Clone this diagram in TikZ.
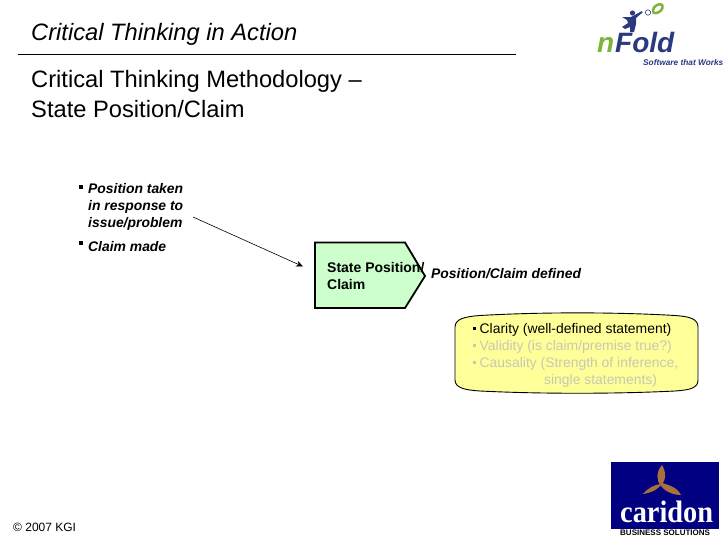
\documentclass[tikz,border=0pt]{standalone}
\usepackage{fontspec}
\usetikzlibrary{arrows.meta}
\setmainfont{Liberation Sans}
\newfontfamily\seriflogo{Liberation Serif}
\newcommand{\fsz}[1]{\fontsize{#1}{#1}\selectfont}
\tikzset{
  x=1pt,y=-1pt,
  txt/.style={inner sep=0pt,anchor=base west,text=black},
  tgrey/.style={txt,text=greytext},
  bul/.style={fill=black,inner sep=0pt,minimum size=3.5pt},
  bulgrey/.style={fill=greytext,inner sep=0pt,minimum size=3.5pt},
}
\definecolor{greytext}{HTML}{C8C8B4}
\definecolor{mint}{HTML}{CCFFCC}
\definecolor{paley}{HTML}{FFFF99}
\definecolor{navy}{HTML}{000080}
\definecolor{foldblue}{HTML}{2B3A7E}
\definecolor{foldgreen}{HTML}{7DB53A}
\definecolor{wing}{HTML}{A8703C}
\begin{document}
\begin{tikzpicture}
\useasboundingbox (0,0) rectangle (728,546);
\fill[white] (0,0) rectangle (728,546);
% headings
\node[txt] (title) at (31,40) {\fsz{23.7}\itshape Critical Thinking in Action};
\draw[line width=0.8pt] (18,54) -- (516,54);
\node[txt] (sub1) at (31,87) {\fsz{23.7}Critical Thinking Methodology –};
\node[txt] (sub2) at (31,117) {\fsz{23.7}State Position/Claim};
% left list
\node[bul] (b1) at (81,187) {};
\node[txt] (p1) at (88,193) {\fsz{13.9}\bfseries\itshape Position taken};
\node[txt] (p2) at (88,210) {\fsz{13.9}\bfseries\itshape in response to};
\node[txt] (p3) at (88,227) {\fsz{13.9}\bfseries\itshape issue/problem};
\node[bul] (b2) at (81,243) {};
\node[txt] (p4) at (88,251) {\fsz{13.9}\bfseries\itshape Claim made};
% pentagon
\draw[fill=mint,line width=1.8pt,line join=miter] (315,242.5) -- (405,242.5) -- (425,276) -- (405,308) -- (315,308) -- cycle;
\coordinate (penin) at (303,266.5);
\coordinate (armstart) at (193,217);
\draw[line width=0.6pt,-{Stealth[length=7pt,width=6pt]}] (armstart) -- (penin);
\node[txt] (s1) at (327,272) {\fsz{14}\bfseries State Position/};
\node[txt] (s2) at (327,289) {\fsz{14}\bfseries Claim};
\node[txt] (def) at (431,278) {\fsz{13.9}\bfseries\itshape Position/Claim defined};
% yellow box
\draw[fill=paley,line width=0.9pt] (455,327) .. controls (455,319) and (465,316.5) .. (480,315.5) .. controls (540,312) and (615,312) .. (675,315.5) .. controls (690,316.5) and (698,319) .. (698,327) -- (698,380) .. controls (698,388) and (690,390) .. (675,391) .. controls (615,394) and (540,394) .. (480,391) .. controls (465,390) and (455,388) .. (455,380) -- cycle;
\node[bul] (y1) at (474.5,328.5) {};
\node[txt] (c1) at (479.5,333) {\fsz{13.9}Clarity (well-defined statement)};
\node[bulgrey] (y2) at (474.5,345.5) {};
\node[tgrey] (c2) at (479.5,350) {\fsz{13.9}Validity (is claim/premise true?)};
\node[bulgrey] (y3) at (474.5,362.5) {};
\node[tgrey] (c3) at (479.5,367) {\fsz{13.9}Causality (Strength of inference,};
\node[tgrey] (c4) at (544,384) {\fsz{13.9}single statements)};
% nFold logo
\node[txt,text=foldgreen] (nf1) at (597,52) {\fsz{28}\bfseries\itshape n};
\node[txt,text=foldblue] (nf2) at (615,52) {\fsz{28}\bfseries\itshape Fold};
\node[txt,text=foldblue] (nf3) at (643,65.7) {\fsz{8.3}\bfseries\itshape Software that Works};
\fill[foldblue] (632.5,13) circle (2.6);
\fill[foldblue] (622,17) -- (631,17) -- (642,11) -- (642.5,12.5) -- (636,18) -- (636,24) -- (634,32) -- (630,32) -- (630,27) -- (625,29) -- (622,27) -- (628,23) -- (627,20) -- cycle;
\draw[foldgreen,line width=2.5pt] (657,5) .. controls (663,2.5) and (664,7) .. (661,10.5) .. controls (657,14) and (653,14) .. (653,11) .. controls (653,8) and (654,6.5) .. (657,5) -- cycle;
\draw[foldblue,line width=0.6pt] (648,12.5) circle (2.7);
% caridon logo
\fill[navy] (611,462) rectangle (719,529);
\fill[wing] (662,465) .. controls (666,472) and (667,478) .. (661,486) .. controls (656,480) and (656,472) .. (662,465) -- cycle;
\fill[wing] (659,482) .. controls (668,485) and (676,486) .. (681,495) .. controls (673,495) and (662,491) .. (659,482) -- cycle;
\fill[wing] (662,484) .. controls (656,491) and (650,493) .. (643,494) .. controls (648,488) and (655,484) .. (662,484) -- cycle;
\node[txt,text=white] (car) at (620,522) {\fsz{31}\seriflogo\bfseries\scalebox{0.915}[1]{caridon}};
\node[txt] (bs) at (620,535.5) {\fsz{8}\bfseries BUSINESS SOLUTIONS};
% footer
\node[txt] (cp) at (13,531) {\fsz{12}© 2007 KGI};
\end{tikzpicture}
\end{document}
